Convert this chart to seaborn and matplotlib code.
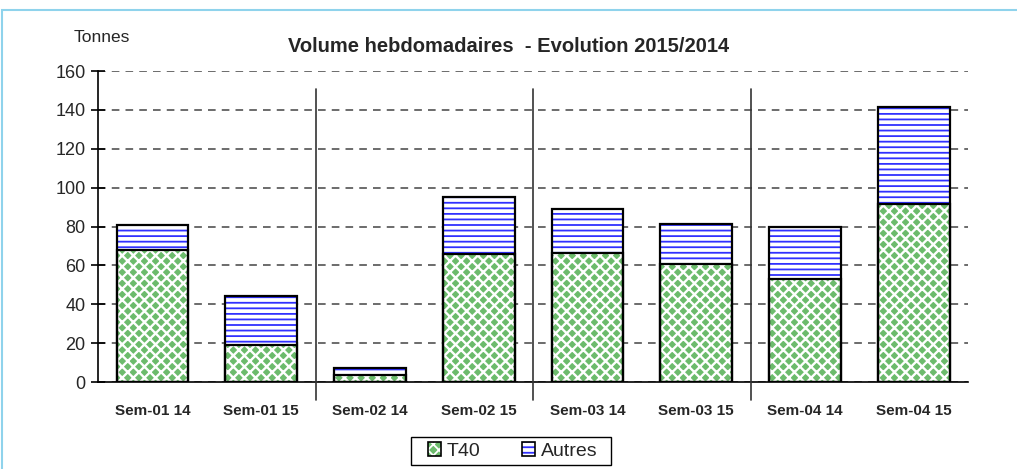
import matplotlib.pyplot as plt
import matplotlib.patches as mpatches
import numpy as np
import pandas as pd
import seaborn as sns

# données
semaines = ["Sem-01 14", "Sem-01 15", "Sem-02 14", "Sem-02 15",
            "Sem-03 14", "Sem-03 15", "Sem-04 14", "Sem-04 15"]
t40 = [68, 19, 3.6, 66, 66.5, 60.5, 53, 91.5]
autres = [13, 25.5, 3.5, 29, 22.5, 21, 27, 50]

df = pd.DataFrame({"semaine": semaines, "T40": t40, "Autres": autres})
df["total"] = df["T40"] + df["Autres"]

vert = "#6cbb6c"
bleu = "#3030ff"

sns.set_style("white")
plt.rcParams["font.family"] = ["Liberation Sans", "DejaVu Sans"]

fig = plt.figure(figsize=(10.17, 4.69), dpi=100)
ax = fig.add_axes([0.0964, 0.1855, 0.8555, 0.6631])

w = 0.66
# Autres (empilé) : fond blanc + hachures bleues
plt.rcParams["hatch.linewidth"] = 1.3
sns.barplot(data=df, x="semaine", y="total", color="white", width=w,
            hatch="---", edgecolor=bleu, linewidth=0, ax=ax)
# T40 : vert avec motif blanc
plt.rcParams["hatch.linewidth"] = 1.7
sns.barplot(data=df, x="semaine", y="T40", color=vert, width=w,
            hatch="xxx", edgecolor="white", linewidth=0, saturation=1, ax=ax)
for p in ax.patches:
    p.set_zorder(2)
# contours noirs
sns.barplot(data=df, x="semaine", y="total", fill=False, width=w,
            edgecolor="black", linewidth=1.6, ax=ax)
sns.barplot(data=df, x="semaine", y="T40", fill=False, width=w,
            edgecolor="black", linewidth=1.6, ax=ax)
for p in ax.patches[16:]:
    p.set_zorder(3)

ax.set_xlim(-0.5, len(semaines) - 0.5)
ax.set_ylim(0, 160)
ax.set_yticks(np.arange(0, 161, 20))
ax.yaxis.grid(True, linestyle=(0, (5, 4)), color="#444444", linewidth=1.1)
ax.set_axisbelow(True)

# séparateurs verticaux entre semaines
for xs in [1.5, 3.5, 5.5]:
    ax.plot([xs, xs], [-9.3, 151], color="#333333", linewidth=1.2,
            clip_on=False, zorder=4)

sns.despine(ax=ax, top=True, right=True)
ax.spines["left"].set_color("black")
ax.spines["bottom"].set_color("black")
ax.spines["left"].set_linewidth(1.2)
ax.spines["bottom"].set_linewidth(1.2)

ax.set_xticks(np.arange(len(semaines)))
ax.set_xticklabels(semaines, fontweight="bold", fontsize=11)
ax.set_xticks(np.arange(-0.5, len(semaines)), minor=True)
ax.tick_params(axis="x", which="major", length=0, pad=16)
ax.tick_params(axis="x", which="minor", direction="inout", length=10,
               width=1.2, color="black")
ax.tick_params(axis="y", direction="inout", length=10, width=1.2,
               color="black", labelsize=13, pad=4, left=True)
ax.set_xlabel("")
ax.set_ylabel("")

fig.text(0.072, 0.919, "Tonnes", fontsize=12.5, ha="left", va="center")
fig.text(0.5, 0.901, "Volume hebdomadaires  - Evolution 2015/2014",
         fontsize=14.5, fontweight="bold", ha="center", va="center")

# légende : motif + contour superposés
plt.rcParams["hatch.linewidth"] = 1.3
h1 = (mpatches.Patch(facecolor=vert, edgecolor="white", hatch="xxx", linewidth=0),
      mpatches.Patch(fill=False, edgecolor="black", linewidth=1.2))
h2 = (mpatches.Patch(facecolor="white", edgecolor=bleu, hatch="---", linewidth=0),
      mpatches.Patch(fill=False, edgecolor="black", linewidth=1.2))
leg = fig.legend([h1, h2], ["T40", "Autres"], ncol=2, loc="center",
                 bbox_to_anchor=(0.504, 1 - 451 / 469), fontsize=14,
                 frameon=False, handlelength=0.7, handleheight=0.7,
                 handletextpad=0.3, columnspacing=2.1, borderpad=0.25)
# cadre de la légende
fig.patches.append(mpatches.Rectangle((411 / 1017, 1 - 465 / 469), 200 / 1017,
                                      28 / 469, transform=fig.transFigure,
                                      fill=False, edgecolor="black",
                                      linewidth=1.0))

# cadre bleu clair
fig.patches.append(mpatches.Rectangle((0.002, -0.1), 1.2, 1.1 - 10 / 469,
                                      transform=fig.transFigure, fill=False,
                                      edgecolor="#8fd3ec", linewidth=1.5))

fig.savefig("out.png", dpi=100)
